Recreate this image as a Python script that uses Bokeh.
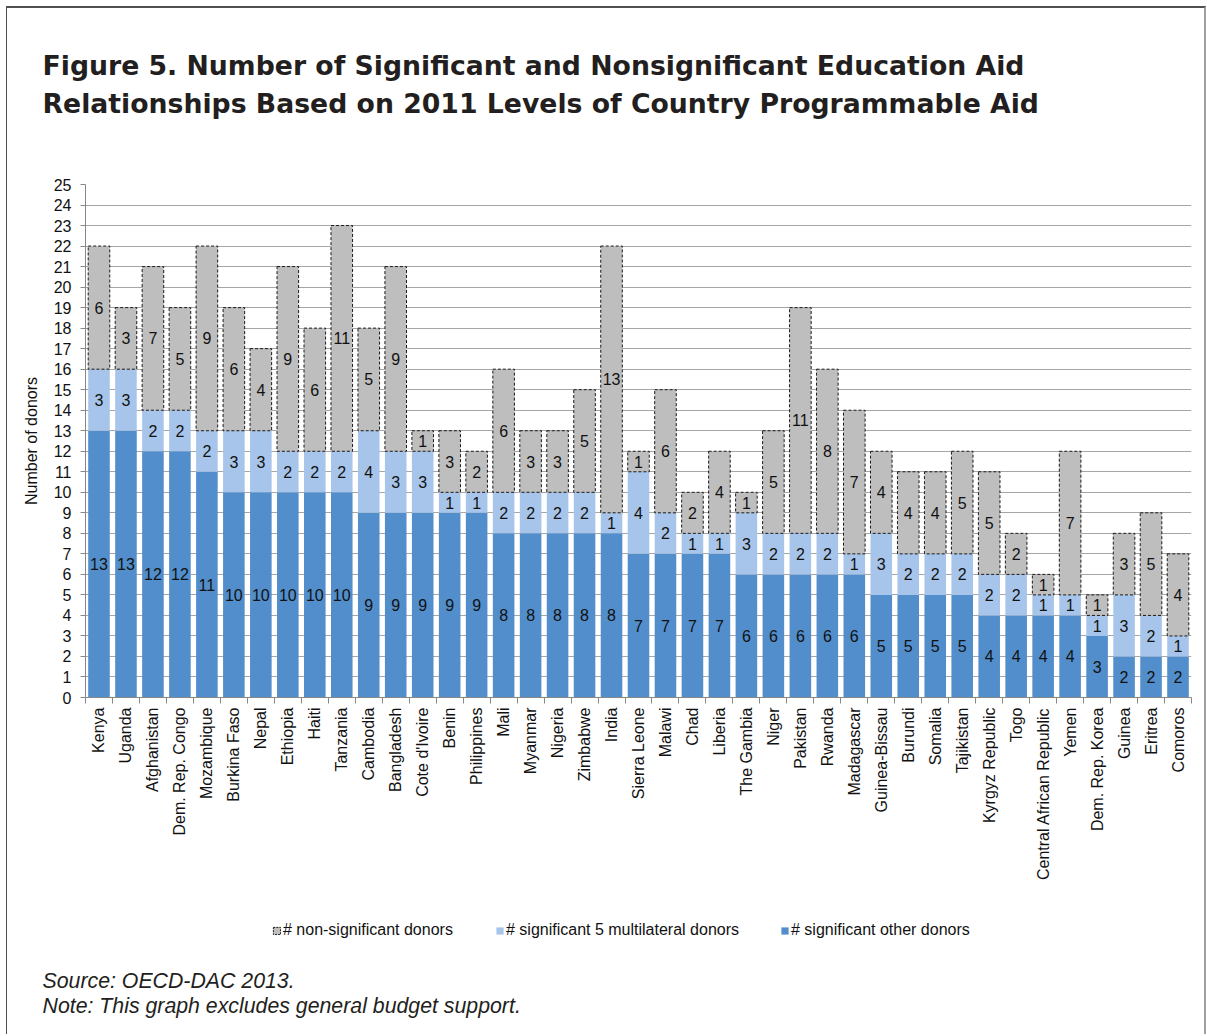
import math
from bokeh.plotting import figure
from bokeh.layouts import column
from bokeh.models import (ColumnDataSource, FixedTicker, Label, Legend, LegendItem,
                          Range1d)
from bokeh.embed import file_html
from bokeh.resources import INLINE
from bokeh.core.properties import value

countries = ["Kenya", "Uganda", "Afghanistan", "Dem. Rep. Congo", "Mozambique",
             "Burkina Faso", "Nepal", "Ethiopia", "Haiti", "Tanzania", "Cambodia",
             "Bangladesh", "Cote d'Ivoire", "Benin", "Philippines", "Mali", "Myanmar",
             "Nigeria", "Zimbabwe", "India", "Sierra Leone", "Malawi", "Chad", "Liberia",
             "The Gambia", "Niger", "Pakistan", "Rwanda", "Madagascar", "Guinea-Bissau",
             "Burundi", "Somalia", "Tajikistan", "Kyrgyz Republic", "Togo",
             "Central African Republic", "Yemen", "Dem. Rep. Korea", "Guinea", "Eritrea",
             "Comoros"]
sig_other = [13, 13, 12, 12, 11, 10, 10, 10, 10, 10, 9, 9, 9, 9, 9, 8, 8, 8, 8, 8,
             7, 7, 7, 7, 6, 6, 6, 6, 6, 5, 5, 5, 5, 4, 4, 4, 4, 3, 2, 2, 2]
sig_multi = [3, 3, 2, 2, 2, 3, 3, 2, 2, 2, 4, 3, 3, 1, 1, 2, 2, 2, 2, 1,
             4, 2, 1, 1, 3, 2, 2, 2, 1, 3, 2, 2, 2, 2, 2, 1, 1, 1, 3, 2, 1]
non_sig = [6, 3, 7, 5, 9, 6, 4, 9, 6, 11, 5, 9, 1, 3, 2, 6, 3, 3, 5, 13,
           1, 6, 2, 4, 1, 5, 11, 8, 7, 4, 4, 4, 5, 5, 2, 1, 7, 1, 3, 5, 4]
y_ticks = list(range(0, 26))

title_lines = ["Figure 5. Number of Significant and Nonsignificant Education Aid",
               "Relationships Based on 2011 Levels of Country Programmable Aid"]
legend_labels = ["# non-significant donors", "# significant 5 multilateral donors",
                 "# significant other donors"]
source_lines = ["Source: OECD-DAC 2013.", "Note: This graph excludes general budget support."]

DARK = "#518ECB"
LIGHT = "#A7C5EA"
GRAY = "#BEBEBE"
FONT = "Liberation Sans"
TXT = "#111111"

W = 1197          # content width
H_HEAD = 150
H_MAIN = 750
H_FOOT = 126

n = len(countries)
xs = list(range(1, n + 1))
top1 = list(sig_other)
top2 = [a + b for a, b in zip(sig_other, sig_multi)]
top3 = [a + b for a, b in zip(top2, non_sig)]


def blank(h):
    f = figure(width=W, height=h, output_backend="svg", toolbar_location=None,
               x_range=Range1d(0, W), y_range=Range1d(0, h),
               x_axis_type=None, y_axis_type=None,
               min_border=0, min_border_left=0, min_border_right=0,
               min_border_top=0, min_border_bottom=0)
    f.frame_align = False
    f.grid.visible = False
    f.outline_line_color = None
    f.background_fill_color = "white"
    f.border_fill_color = "white"
    return f


# ---------------- header ----------------
head = blank(H_HEAD)
for txt, yb in zip(title_lines, [93, 55]):
    head.add_layout(Label(x=35, y=yb, x_units="screen", y_units="screen", text=txt,
                          text_font="DejaVu Sans", text_font_style="bold",
                          text_font_size="26.7px", text_color="#231F20",
                          text_baseline="middle", text_align="left"))

# ---------------- main chart ----------------
src = ColumnDataSource(dict(x=xs, b1=[0] * n, t1=top1, b2=top1, t2=top2, b3=top2, t3=top3))

p = figure(width=W, height=H_MAIN, output_backend="svg", toolbar_location=None,
           x_range=Range1d(0.5, n + 0.5), y_range=Range1d(0, 25),
           min_border_left=78, min_border_right=13, min_border_top=26,
           min_border_bottom=211)
p.frame_align = False
p.outline_line_color = None
p.background_fill_color = "white"
p.border_fill_color = "white"
p.xgrid.visible = False
p.ygrid.ticker = FixedTicker(ticks=y_ticks)
p.ygrid.grid_line_color = "#A6A6A6"
p.ygrid.grid_line_width = 1

w = 0.8
p.vbar(x="x", bottom="b1", top="t1", width=w, source=src, fill_color=DARK, line_color=None)
p.vbar(x="x", bottom="b2", top="t2", width=w, source=src, fill_color=LIGHT, line_color=None)
p.vbar(x="x", bottom="b3", top="t3", width=w, source=src, fill_color=GRAY,
       line_color="#1a1a1a", line_dash="3 2", line_width=1)

lx, ly, lt = [], [], []
for i in range(n):
    segs = [(0, top1[i], sig_other[i]), (top1[i], top2[i], sig_multi[i]),
            (top2[i], top3[i], non_sig[i])]
    for b, t, v in segs:
        lx.append(xs[i])
        ly.append((b + t) / 2)
        lt.append(str(v))
lsrc = ColumnDataSource(dict(x=lx, y=ly, text=lt))
p.text(x="x", y="y", text="text", source=lsrc, text_align="center",
       text_baseline="middle", text_font=value(FONT), text_font_size="16px",
       text_color=TXT)

xa = p.xaxis[0]
xa.ticker = FixedTicker(ticks=xs, minor_ticks=[v + 0.5 for v in range(0, n + 1)])
xa.major_label_overrides = {v: c for v, c in zip(xs, countries)}
xa.major_label_orientation = math.pi / 2
xa.major_tick_line_color = None
xa.minor_tick_in = 0
xa.minor_tick_out = 6
xa.minor_tick_line_color = "#888888"
xa.axis_line_color = "#888888"
xa.major_label_standoff = 4
xa.major_label_text_font = FONT
xa.major_label_text_font_size = "16px"
xa.major_label_text_color = TXT

ya = p.yaxis[0]
ya.ticker = FixedTicker(ticks=y_ticks)
ya.axis_line_color = "#888888"
ya.major_tick_line_color = "#888888"
ya.major_tick_in = 0
ya.major_tick_out = 5
ya.minor_tick_line_color = None
ya.major_label_standoff = 9
ya.major_label_text_font = FONT
ya.major_label_text_font_size = "16px"
ya.major_label_text_color = TXT
ya.axis_label = "Number of donors"
ya.axis_label_text_font = FONT
ya.axis_label_text_font_size = "16px"
ya.axis_label_text_font_style = "normal"
ya.axis_label_text_color = TXT
ya.axis_label_standoff = 11

# ---------------- footer ----------------
foot = blank(H_FOOT)
# hidden copies of the bar renderers, used only to draw the legend swatches
leg_r = [
    foot.vbar(x="x", bottom="b3", top="t3", width=0.8, source=src, fill_color=GRAY,
              line_color="#1a1a1a", line_dash="2 1", line_width=1, visible=False),
    foot.vbar(x="x", bottom="b2", top="t2", width=0.8, source=src, fill_color=LIGHT,
              line_color=None, visible=False),
    foot.vbar(x="x", bottom="b1", top="t1", width=0.8, source=src, fill_color=DARK,
              line_color=None, visible=False),
]
for rend, lab, cx in zip(leg_r, legend_labels, [265, 488, 773]):
    lg = Legend(items=[LegendItem(label=lab, renderers=[rend])],
                location=(cx, 94), orientation="horizontal",
                padding=0, margin=0, border_line_color=None,
                background_fill_alpha=0, glyph_width=9, glyph_height=9,
                label_standoff=2, label_height=20,
                inactive_fill_alpha=0,
                label_text_font=FONT, label_text_font_size="16px",
                label_text_color=TXT)
    foot.add_layout(lg, "center")

for txt, yb in zip(source_lines, [54, 29]):
    foot.add_layout(Label(x=35, y=yb, x_units="screen", y_units="screen", text=txt,
                          text_font=FONT, text_font_style="italic",
                          text_font_size="21.3px", text_color="#231F20",
                          text_baseline="middle", text_align="left"))

page = column(head, p, foot, spacing=0,
              styles={"margin-left": "6px", "margin-top": "6px",
                      "border-top": "2px solid #505050",
                      "border-left": "1px solid #505050",
                      "border-right": "2px solid #a0a0a0"})

open("out.html", "w").write(file_html(page, INLINE))
